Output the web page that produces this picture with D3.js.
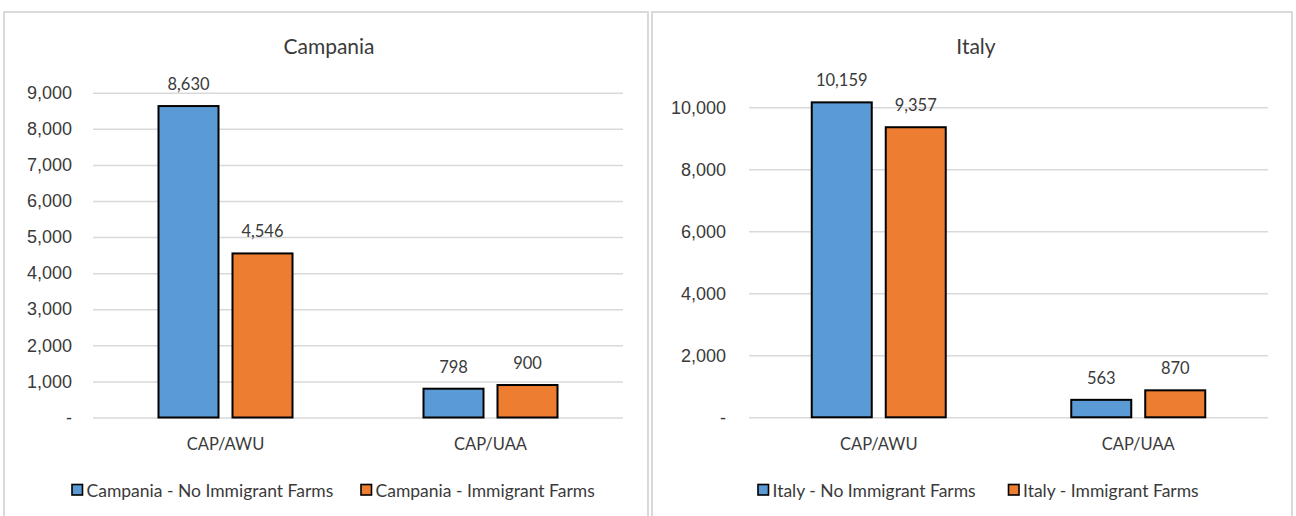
<!DOCTYPE html>
<html>
<head>
<meta charset="utf-8">
<script src="https://cdn.jsdelivr.net/npm/d3@7"></script>
<style>
  html, body { margin: 0; padding: 0; background: #fff; }
  svg { display: block; font-family: Lato, "Open Sans", sans-serif; }
</style>
</head>
<body>
<svg id="chart" width="1296" height="516"></svg>
<script>
// CAP payments per Annual Work Unit and per hectare of Utilised Agricultural Area
const categories = ["CAP/AWU", "CAP/UAA"];
const campaniaSeries = ["Campania - No Immigrant Farms", "Campania - Immigrant Farms"];
const campaniaNoImmigrant = [8630, 798];
const campaniaImmigrant = [4546, 900];
const campaniaTicks = [0, 1000, 2000, 3000, 4000, 5000, 6000, 7000, 8000, 9000];

const italySeries = ["Italy - No Immigrant Farms", "Italy - Immigrant Farms"];
const italyNoImmigrant = [10159, 563];
const italyImmigrant = [9357, 870];
const italyTicks = [0, 2000, 4000, 6000, 8000, 10000];

const colors = ["#5b9bd5", "#ed7d31"];
const textColor = "#3a3a3a";

const svg = d3.select("#chart");
const fmt = v => v === 0 ? "-" : d3.format(",")(v);

function drawPanel(cfg) {
  const g = svg.append("g");

  // panel frame
  g.append("rect")
    .attr("x", cfg.frame[0]).attr("y", cfg.frame[1])
    .attr("width", cfg.frame[2]).attr("height", cfg.frame[3])
    .attr("fill", "#fff").attr("stroke", "#d9d9d9").attr("stroke-width", 2);

  const x0 = d3.scaleBand().domain(categories).range(cfg.xRange);
  const x1 = d3.scaleBand().domain(cfg.series).range([-67, 67]).paddingInner(0.189);
  const y = d3.scaleLinear().domain(cfg.yDomain).range(cfg.yRange);

  // gridlines and tick labels
  const axis = d3.axisLeft(y).tickValues(cfg.ticks).tickFormat(fmt)
    .tickSize(-(cfg.xRange[1] - cfg.xRange[0])).tickPadding(cfg.tickPad);
  const ag = g.append("g").attr("transform", `translate(${cfg.xRange[0]},0)`).call(axis);
  ag.select(".domain").remove();
  ag.selectAll(".tick line").attr("stroke", "#d9d9d9").attr("stroke-width", 1.5);
  ag.selectAll(".tick text").attr("fill", textColor).attr("font-size", 18);

  // title
  g.append("text")
    .attr("x", cfg.titleX).attr("y", 54)
    .attr("text-anchor", "middle").attr("fill", textColor)
    .attr("font-size", 21).text(cfg.title);

  // bars
  const rows = categories.map((c, i) => ({
    cat: c,
    vals: cfg.series.map((s, j) => ({ s, j, v: cfg.values[j][i] }))
  }));
  const grp = g.selectAll(".grp").data(rows).join("g")
    .attr("transform", d => `translate(${x0(d.cat) + x0.bandwidth() / 2},0)`);
  grp.selectAll("rect").data(d => d.vals).join("rect")
    .attr("x", d => x1(d.s)).attr("width", x1.bandwidth())
    .attr("y", d => y(d.v)).attr("height", d => y(0) - y(d.v))
    .attr("fill", d => colors[d.j]).attr("stroke", "#000").attr("stroke-width", 2);
  grp.selectAll("text").data(d => d.vals).join("text")
    .attr("x", d => x1(d.s) + x1.bandwidth() / 2)
    .attr("y", d => y(d.v) - 16)
    .attr("text-anchor", "middle").attr("fill", textColor)
    .attr("font-size", 16.5).text(d => d3.format(",")(d.v));

  // category labels
  g.selectAll(".cat").data(categories).join("text")
    .attr("x", d => x0(d) + x0.bandwidth() / 2).attr("y", 450)
    .attr("text-anchor", "middle").attr("fill", textColor)
    .attr("font-size", 16.5).text(d => d);

  // legend
  const lg = g.append("g");
  cfg.series.forEach((s, j) => {
    const lx = cfg.legendX[j];
    lg.append("rect").attr("x", lx).attr("y", 484.5).attr("width", 10.5).attr("height", 10.5)
      .attr("fill", colors[j]).attr("stroke", "#000").attr("stroke-width", 1.6);
    lg.append("text").attr("x", lx + 14.5).attr("y", 497)
      .attr("fill", textColor).attr("font-size", 17.5).text(s);
  });
}

drawPanel({
  frame: [4, 12, 644, 520],
  title: "Campania", titleX: 329,
  series: campaniaSeries,
  values: [campaniaNoImmigrant, campaniaImmigrant],
  xRange: [93, 623],
  yDomain: [0, 9000], yRange: [417.5, 92.7],
  ticks: campaniaTicks, tickPad: 21,
  legendX: [72, 361]
});

drawPanel({
  frame: [652, 12, 640, 520],
  title: "Italy", titleX: 976,
  series: italySeries,
  values: [italyNoImmigrant, italyImmigrant],
  xRange: [749, 1268],
  yDomain: [0, 10000], yRange: [417.3, 107.3],
  ticks: italyTicks, tickPad: 23,
  legendX: [758, 1008.5]
});
</script>
</body>
</html>
